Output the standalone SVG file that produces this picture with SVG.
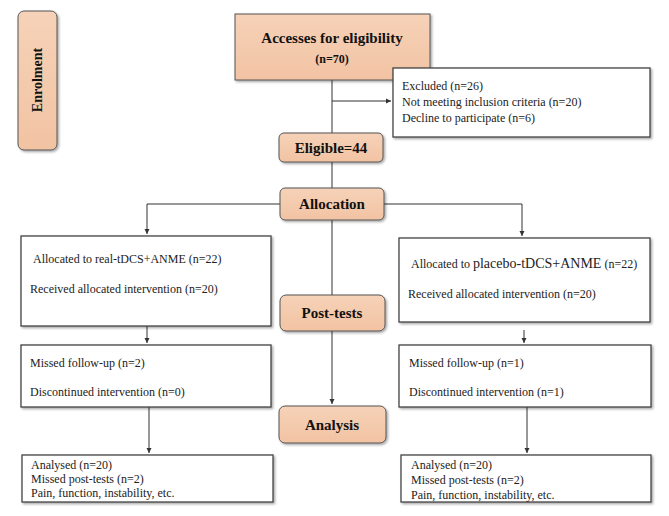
<svg xmlns="http://www.w3.org/2000/svg" width="669" height="516" viewBox="0 0 669 516">
<defs>
<linearGradient id="pe" x1="0" y1="0" x2="0" y2="1"><stop offset="0" stop-color="#f6d2b8"/><stop offset="1" stop-color="#f2c3a3"/></linearGradient>
<filter id="sh" x="-10%" y="-10%" width="130%" height="130%"><feDropShadow dx="1.5" dy="1.5" stdDeviation="1" flood-color="#000" flood-opacity="0.35"/></filter>
<marker id="ar" markerWidth="6" markerHeight="6" refX="5" refY="3" orient="auto"><path d="M0,0.5 L5,3 L0,5.5z" fill="#333"/></marker>
</defs>
<style>
.pk{fill:url(#pe);stroke:#555;stroke-width:1;filter:url(#sh)}
.wb{fill:#fff;stroke:#444;stroke-width:1.3;filter:url(#sh)}
.h{font-family:"Liberation Serif",serif;font-weight:bold;fill:#111;text-anchor:middle}
.t{font-family:"Liberation Serif",serif;font-size:12px;fill:#222}
.c line{stroke:#333;stroke-width:1}
</style>
<g class="c">
<line x1="332" y1="80" x2="332" y2="133"/>
<line x1="332" y1="101" x2="391" y2="101" marker-end="url(#ar)"/>
<line x1="332" y1="162" x2="332" y2="188"/>
<line x1="280" y1="204" x2="147" y2="204"/>
<line x1="147" y1="204" x2="147" y2="234" marker-end="url(#ar)"/>
<line x1="384" y1="204" x2="522" y2="204"/>
<line x1="522" y1="204" x2="522" y2="236" marker-end="url(#ar)"/>
<line x1="332" y1="220" x2="332" y2="295"/>
<line x1="332" y1="331" x2="332" y2="404" marker-end="url(#ar)"/>
<line x1="147" y1="326" x2="147" y2="343" marker-end="url(#ar)"/>
<line x1="524" y1="330" x2="524" y2="343" marker-end="url(#ar)"/>
<line x1="149" y1="407" x2="149" y2="453" marker-end="url(#ar)"/>
<line x1="527" y1="407" x2="527" y2="453" marker-end="url(#ar)"/>
</g>
<g id="enrolment"><rect class="pk" x="18" y="11" width="39" height="139" rx="6"/><text class="h" font-size="14" transform="translate(42 80) rotate(-90)">Enrolment</text></g>
<g id="access"><rect class="pk" x="235" y="14" width="195" height="66"/><text class="h" x="332" y="43" font-size="15">Accesses for eligibility</text><text class="h" x="332" y="63" font-size="12">(n=70)</text></g>
<g id="excluded"><rect class="wb" x="393" y="68" width="257" height="69"/><text class="t" x="402" y="90">Excluded (n=26)</text><text class="t" x="402" y="106">Not meeting inclusion criteria (n=20)</text><text class="t" x="402" y="122">Decline to participate (n=6)</text></g>
<g id="eligible"><rect class="pk" x="279" y="133" width="104" height="29" rx="5"/><text class="h" x="331" y="153" font-size="15">Eligible=44</text></g>
<g id="allocation"><rect class="pk" x="280" y="188" width="104" height="32" rx="5"/><text class="h" x="332" y="209" font-size="15">Allocation</text></g>
<g id="left1"><rect class="wb" x="21" y="236" width="250" height="90"/><text class="t" x="33" y="263">Allocated to real-tDCS+ANME (n=22)</text><text class="t" x="30" y="293">Received allocated intervention (n=20)</text></g>
<g id="right1"><rect class="wb" x="399" y="238" width="251" height="84"/><text class="t" x="411" y="268">Allocated to <tspan font-size="14">placebo-tDCS+ANME</tspan> (n=22)</text><text class="t" x="408" y="298">Received allocated intervention (n=20)</text></g>
<g id="posttests"><rect class="pk" x="280" y="295" width="105" height="36" rx="6"/><text class="h" x="332" y="318" font-size="15">Post-tests</text></g>
<g id="left2"><rect class="wb" x="21" y="345" width="250" height="62"/><text class="t" x="30" y="367">Missed follow-up (n=2)</text><text class="t" x="30" y="396">Discontinued intervention (n=0)</text></g>
<g id="right2"><rect class="wb" x="399" y="345" width="252" height="62"/><text class="t" x="409" y="367">Missed follow-up (n=1)</text><text class="t" x="409" y="396">Discontinued intervention (n=1)</text></g>
<g id="analysis"><rect class="pk" x="279" y="406" width="107" height="37" rx="6"/><text class="h" x="332" y="430" font-size="15">Analysis</text></g>
<g id="left3"><rect class="wb" x="22" y="455" width="251" height="47"/><text class="t" x="31" y="469">Analysed (n=20)</text><text class="t" x="31" y="483">Missed post-tests (n=2)</text><text class="t" x="31" y="497">Pain, function, instability, etc.</text></g>
<g id="right3"><rect class="wb" x="401" y="455" width="250" height="47"/><text class="t" x="411" y="469">Analysed (n=20)</text><text class="t" x="411" y="484">Missed post-tests (n=2)</text><text class="t" x="411" y="499">Pain, function, instability, etc.</text></g>
</svg>
